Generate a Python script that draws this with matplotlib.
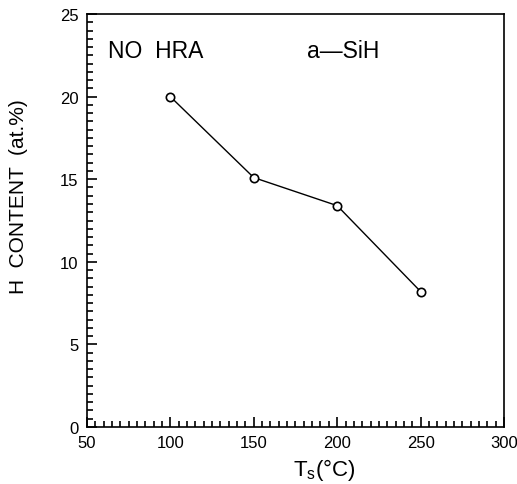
import matplotlib.pyplot as plt
import numpy as np
from matplotlib.ticker import MultipleLocator

plt.rcParams['font.family'] = ['Liberation Sans', 'DejaVu Sans']

# substrate temperature vs hydrogen content
ts = [100, 150, 200, 250]
h_content = [20.0, 15.1, 13.4, 8.2]

fig = plt.figure(figsize=(5.17, 4.85), dpi=100)
ax = fig.add_axes([0.168, 0.1175, 0.807, 0.8515])

ax.plot(ts, h_content, color='black', lw=1.0, marker='o', ms=6,
        mfc='white', mec='black', mew=1.2)

ax.set_xlim(50, 300)
ax.set_ylim(0, 25)
ax.xaxis.set_major_locator(MultipleLocator(50))
ax.xaxis.set_minor_locator(MultipleLocator(5))
ax.yaxis.set_major_locator(MultipleLocator(5))
ax.yaxis.set_minor_locator(MultipleLocator(0.5))
ax.tick_params(which='both', direction='in', top=False, right=False,
               labelsize=12, width=1.2, pad=6)
ax.tick_params(which='major', length=7)
ax.tick_params(which='minor', length=4)
for s in ax.spines.values():
    s.set_linewidth(1.2)

ax.text(62.5, 22.8, 'NO  HRA', fontsize=16.5, va='center')
ax.text(182, 22.8, 'a\u2014SiH', fontsize=16.5, va='center')

ax.set_ylabel('H  CONTENT  (at.%)', fontsize=15)
ax.yaxis.set_label_coords(-0.14, 0.56)
ax.set_xlabel('T$_\\mathregular{s}$(\u00b0C)', fontsize=16)
ax.xaxis.set_label_coords(0.57, -0.07)

fig.savefig('out.png', dpi=100)
